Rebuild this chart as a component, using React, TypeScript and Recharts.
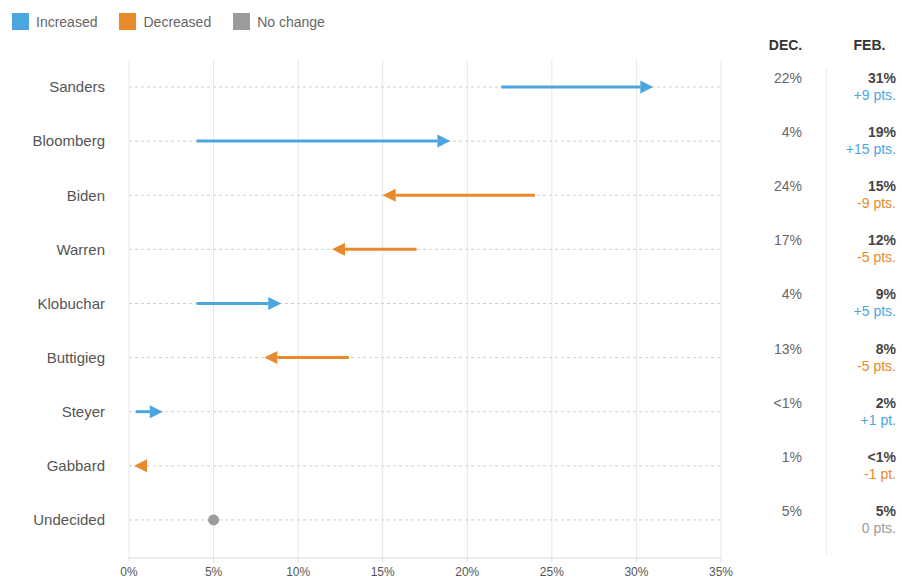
import {
  Bar,
  CartesianGrid,
  ComposedChart,
  XAxis,
  YAxis,
} from "recharts";

const candidates = [
  "Sanders",
  "Bloomberg",
  "Biden",
  "Warren",
  "Klobuchar",
  "Buttigieg",
  "Steyer",
  "Gabbard",
  "Undecided",
];
const decValues = [22, 4, 24, 17, 4, 13, 0.4, 1, 5];
const febValues = [31, 19, 15, 12, 9, 8, 2, 0.3, 5];
const decLabels = ["22%", "4%", "24%", "17%", "4%", "13%", "<1%", "1%", "5%"];
const febLabels = ["31%", "19%", "15%", "12%", "9%", "8%", "2%", "<1%", "5%"];
const changeLabels = [
  "+9 pts.",
  "+15 pts.",
  "-9 pts.",
  "-5 pts.",
  "+5 pts.",
  "-5 pts.",
  "+1 pt.",
  "-1 pt.",
  "0 pts.",
];
const xTicks = [0, 5, 10, 15, 20, 25, 30, 35];

const BLUE = "#4ba6e0";
const ORANGE = "#e8892b";
const GRAY = "#9b9b9b";

const data = candidates.map((name, i) => ({
  name,
  dec: decValues[i],
  feb: febValues[i],
  range: [Math.min(decValues[i], febValues[i]), Math.max(decValues[i], febValues[i])],
  decLabel: decLabels[i],
  febLabel: febLabels[i],
  change: changeLabels[i],
}));

const colorFor = (dec: number, feb: number) =>
  feb > dec ? BLUE : feb < dec ? ORANGE : GRAY;

function ArrowShape(props: any) {
  const { x, y, width, height, payload } = props;
  const cy = y + height / 2;
  const { dec, feb } = payload;
  const color = colorFor(dec, feb);
  if (dec === feb) {
    return <circle cx={x} cy={cy} r={5.5} fill={color} />;
  }
  const up = feb > dec;
  const start = up ? x : x + width;
  const tip = up ? x + width : x;
  const head = 13;
  const base = up ? tip - head : tip + head;
  return (
    <g>
      {Math.abs(tip - start) > head && (
        <line x1={start} y1={cy} x2={base} y2={cy} stroke={color} strokeWidth={3} />
      )}
      <polygon
        points={`${tip},${cy} ${base},${cy - 6.5} ${base},${cy + 6.5}`}
        fill={color}
      />
    </g>
  );
}

function TableTick(props: any) {
  const { x, y, index } = props;
  const row = data[index];
  if (!row) return null;
  return (
    <g fontSize={14}>
      <text x={x + 81} y={y - 9} dy="0.35em" textAnchor="end" fill="#666">
        {row.decLabel}
      </text>
      <text
        x={x + 175}
        y={y - 9}
        dy="0.35em"
        textAnchor="end"
        fill="#444"
        fontWeight="bold"
      >
        {row.febLabel}
      </text>
      <text
        x={x + 175}
        y={y + 8}
        dy="0.35em"
        textAnchor="end"
        fill={colorFor(row.dec, row.feb)}
      >
        {row.change}
      </text>
    </g>
  );
}

const legendItems = [
  { label: "Increased", color: BLUE },
  { label: "Decreased", color: ORANGE },
  { label: "No change", color: GRAY },
];

export default function App() {
  return (
    <div
      style={{
        position: "absolute",
        left: 0,
        top: 0,
        width: 902,
        height: 579,
        background: "#fff",
        fontFamily: '"Liberation Sans", Arial, sans-serif',
      }}
    >
      <div style={{ position: "absolute", left: 12, top: 13, display: "flex" }}>
        {legendItems.map((item) => (
          <div
            key={item.label}
            style={{ display: "flex", alignItems: "center", marginRight: 22 }}
          >
            <span
              style={{
                width: 17,
                height: 17,
                background: item.color,
                marginRight: 7,
                display: "inline-block",
              }}
            />
            <span style={{ fontSize: 14, color: "#666" }}>{item.label}</span>
          </div>
        ))}
      </div>
      <div
        style={{
          position: "absolute",
          left: 745,
          width: 81,
          top: 37,
          fontSize: 14,
          fontWeight: "bold",
          color: "#333",
          textAlign: "center",
        }}
      >
        DEC.
      </div>
      <div
        style={{
          position: "absolute",
          left: 829,
          width: 81,
          top: 37,
          fontSize: 14,
          fontWeight: "bold",
          color: "#333",
          textAlign: "center",
        }}
      >
        FEB.
      </div>
      <div
        style={{
          position: "absolute",
          left: 826,
          top: 68,
          width: 1,
          height: 487,
          background: "#eee",
        }}
      />
      <ComposedChart
        width={902}
        height={579}
        data={data}
        layout="vertical"
        margin={{ top: 60, right: 0, bottom: 0, left: 0 }}
      >
        <CartesianGrid yAxisId="left" horizontal={false} stroke="#e6e6e6" />
        <CartesianGrid
          yAxisId="left"
          vertical={false}
          syncWithTicks
          stroke="#cfcfcf"
          strokeDasharray="3 3"
        />
        <XAxis
          type="number"
          domain={[0, 35]}
          ticks={xTicks}
          tickFormatter={(v) => `${v}%`}
          stroke="#ddd"
          tickSize={4}
          tickMargin={5}
          height={21}
          tick={{ fill: "#555", fontSize: 12 }}
        />
        <YAxis
          yAxisId="left"
          type="category"
          dataKey="name"
          width={129}
          axisLine={false}
          tickLine={false}
          tickSize={0}
          tickMargin={24}
          padding={{ top: 0, bottom: 11 }}
          tick={{ fill: "#555", fontSize: 15 }}
        />
        <YAxis
          yAxisId="right"
          orientation="right"
          type="category"
          dataKey="name"
          width={181}
          axisLine={false}
          tickLine={false}
          tickSize={0}
          tickMargin={0}
          padding={{ top: 0, bottom: 11 }}
          tick={<TableTick />}
        />
        <Bar
          yAxisId="left"
          dataKey="range"
          barSize={12}
          shape={<ArrowShape />}
          isAnimationActive={false}
        />
      </ComposedChart>
    </div>
  );
}
